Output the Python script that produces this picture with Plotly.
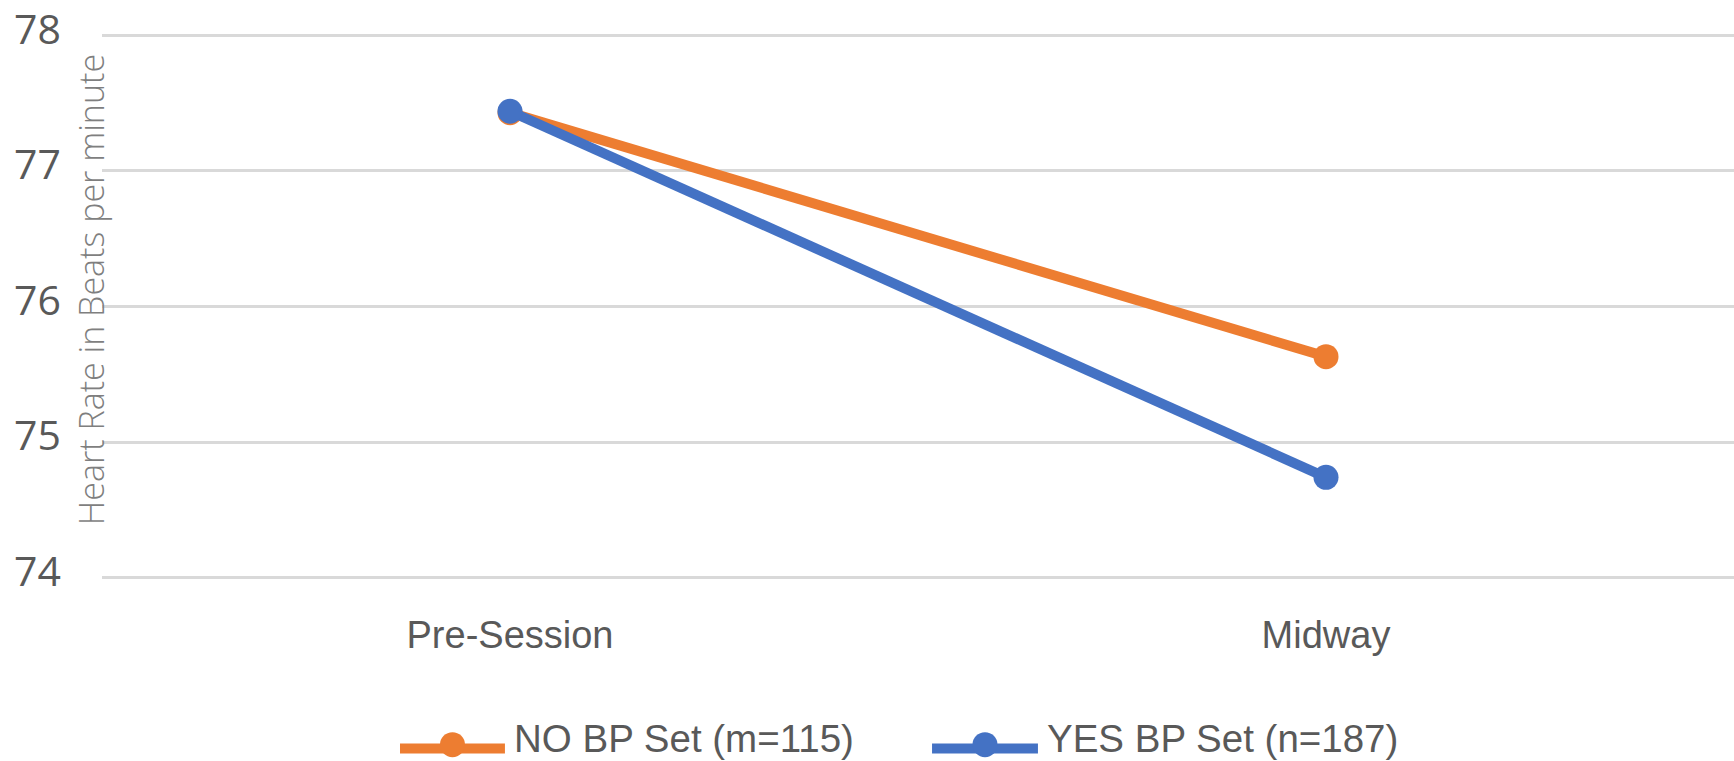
import plotly.graph_objects as go

# Heart rate means by session stage
stages = ["Pre-Session", "Midway"]
no_bp_set = [77.43, 75.63]
yes_bp_set = [77.44, 74.74]
series_names = ["NO BP Set (m=115)", "YES BP Set (n=187)"]
series_colors = ["#ED7D31", "#4472C4"]
y_ticks = [74, 75, 76, 77, 78]

TICK_GRAY = "#595959"
LABEL_FONT = "Liberation Sans, Arial, sans-serif"

fig = go.Figure()
for name, vals, color in zip(series_names, [no_bp_set, yes_bp_set], series_colors):
    fig.add_trace(go.Scatter(
        x=stages, y=vals, name=name, mode="lines+markers",
        line=dict(color=color, width=10),
        marker=dict(color=color, size=25),
        showlegend=False,
    ))

fig.update_xaxes(
    type="category", range=[-0.5, 1.5], automargin=False,
    showgrid=False, showline=False, zeroline=False, ticks="",
    tickfont=dict(family=LABEL_FONT, size=38, color=TICK_GRAY),
    ticklabelstandoff=30,
)
# small padding so the 74 and 78 gridlines are drawn at the plot edges
fig.update_yaxes(
    range=[73.99, 78.01], tickvals=y_ticks, ticktext=[str(v) for v in y_ticks],
    automargin=False,
    showgrid=True, gridcolor="#D9D9D9", gridwidth=3,
    showline=False, zeroline=False, ticks="",
    tickfont=dict(family="Open Sans, sans-serif", size=41, color=TICK_GRAY),
    ticklabelstandoff=40, ticklabelshift=-6, ticklabeloverflow="allow",
)

# Rotated axis title
fig.add_annotation(
    text="Heart Rate in Beats per minute", textangle=-90,
    xref="paper", yref="paper", x=0, xshift=-11, y=0.53,
    xanchor="center", yanchor="middle", showarrow=False,
    font=dict(family="Open Sans, sans-serif", size=34, color="#7F7F7F", weight=300),
)

# Legend drawn below the plot: line segment, dot and label per series
legend_items = [
    (0.1826, 0.2469, 0.2512),
    (0.5086, 0.5735, 0.5778),
]
for (x0, x1, xt), name, color in zip(legend_items, series_names, series_colors):
    ly = -0.311
    fig.add_shape(type="line", xref="paper", yref="paper",
                  x0=x0, x1=x1, y0=ly, y1=ly,
                  line=dict(color=color, width=10))
    fig.add_shape(type="circle", xref="paper", yref="paper",
                  xsizemode="pixel", ysizemode="pixel",
                  xanchor=(x0 + x1) / 2, yanchor=ly + 0.007,
                  x0=-12.5, x1=12.5, y0=-12.5, y1=12.5,
                  fillcolor=color, line=dict(width=0))
    fig.add_annotation(text=name, xref="paper", yref="paper",
                       x=xt, y=-0.293, xanchor="left", yanchor="middle",
                       showarrow=False,
                       font=dict(family=LABEL_FONT, size=38.5, color=TICK_GRAY))

fig.update_layout(
    width=1734, height=761,
    margin=dict(l=102, r=0, t=34, b=182),
    paper_bgcolor="white", plot_bgcolor="white",
)

fig.write_html("out.html")
